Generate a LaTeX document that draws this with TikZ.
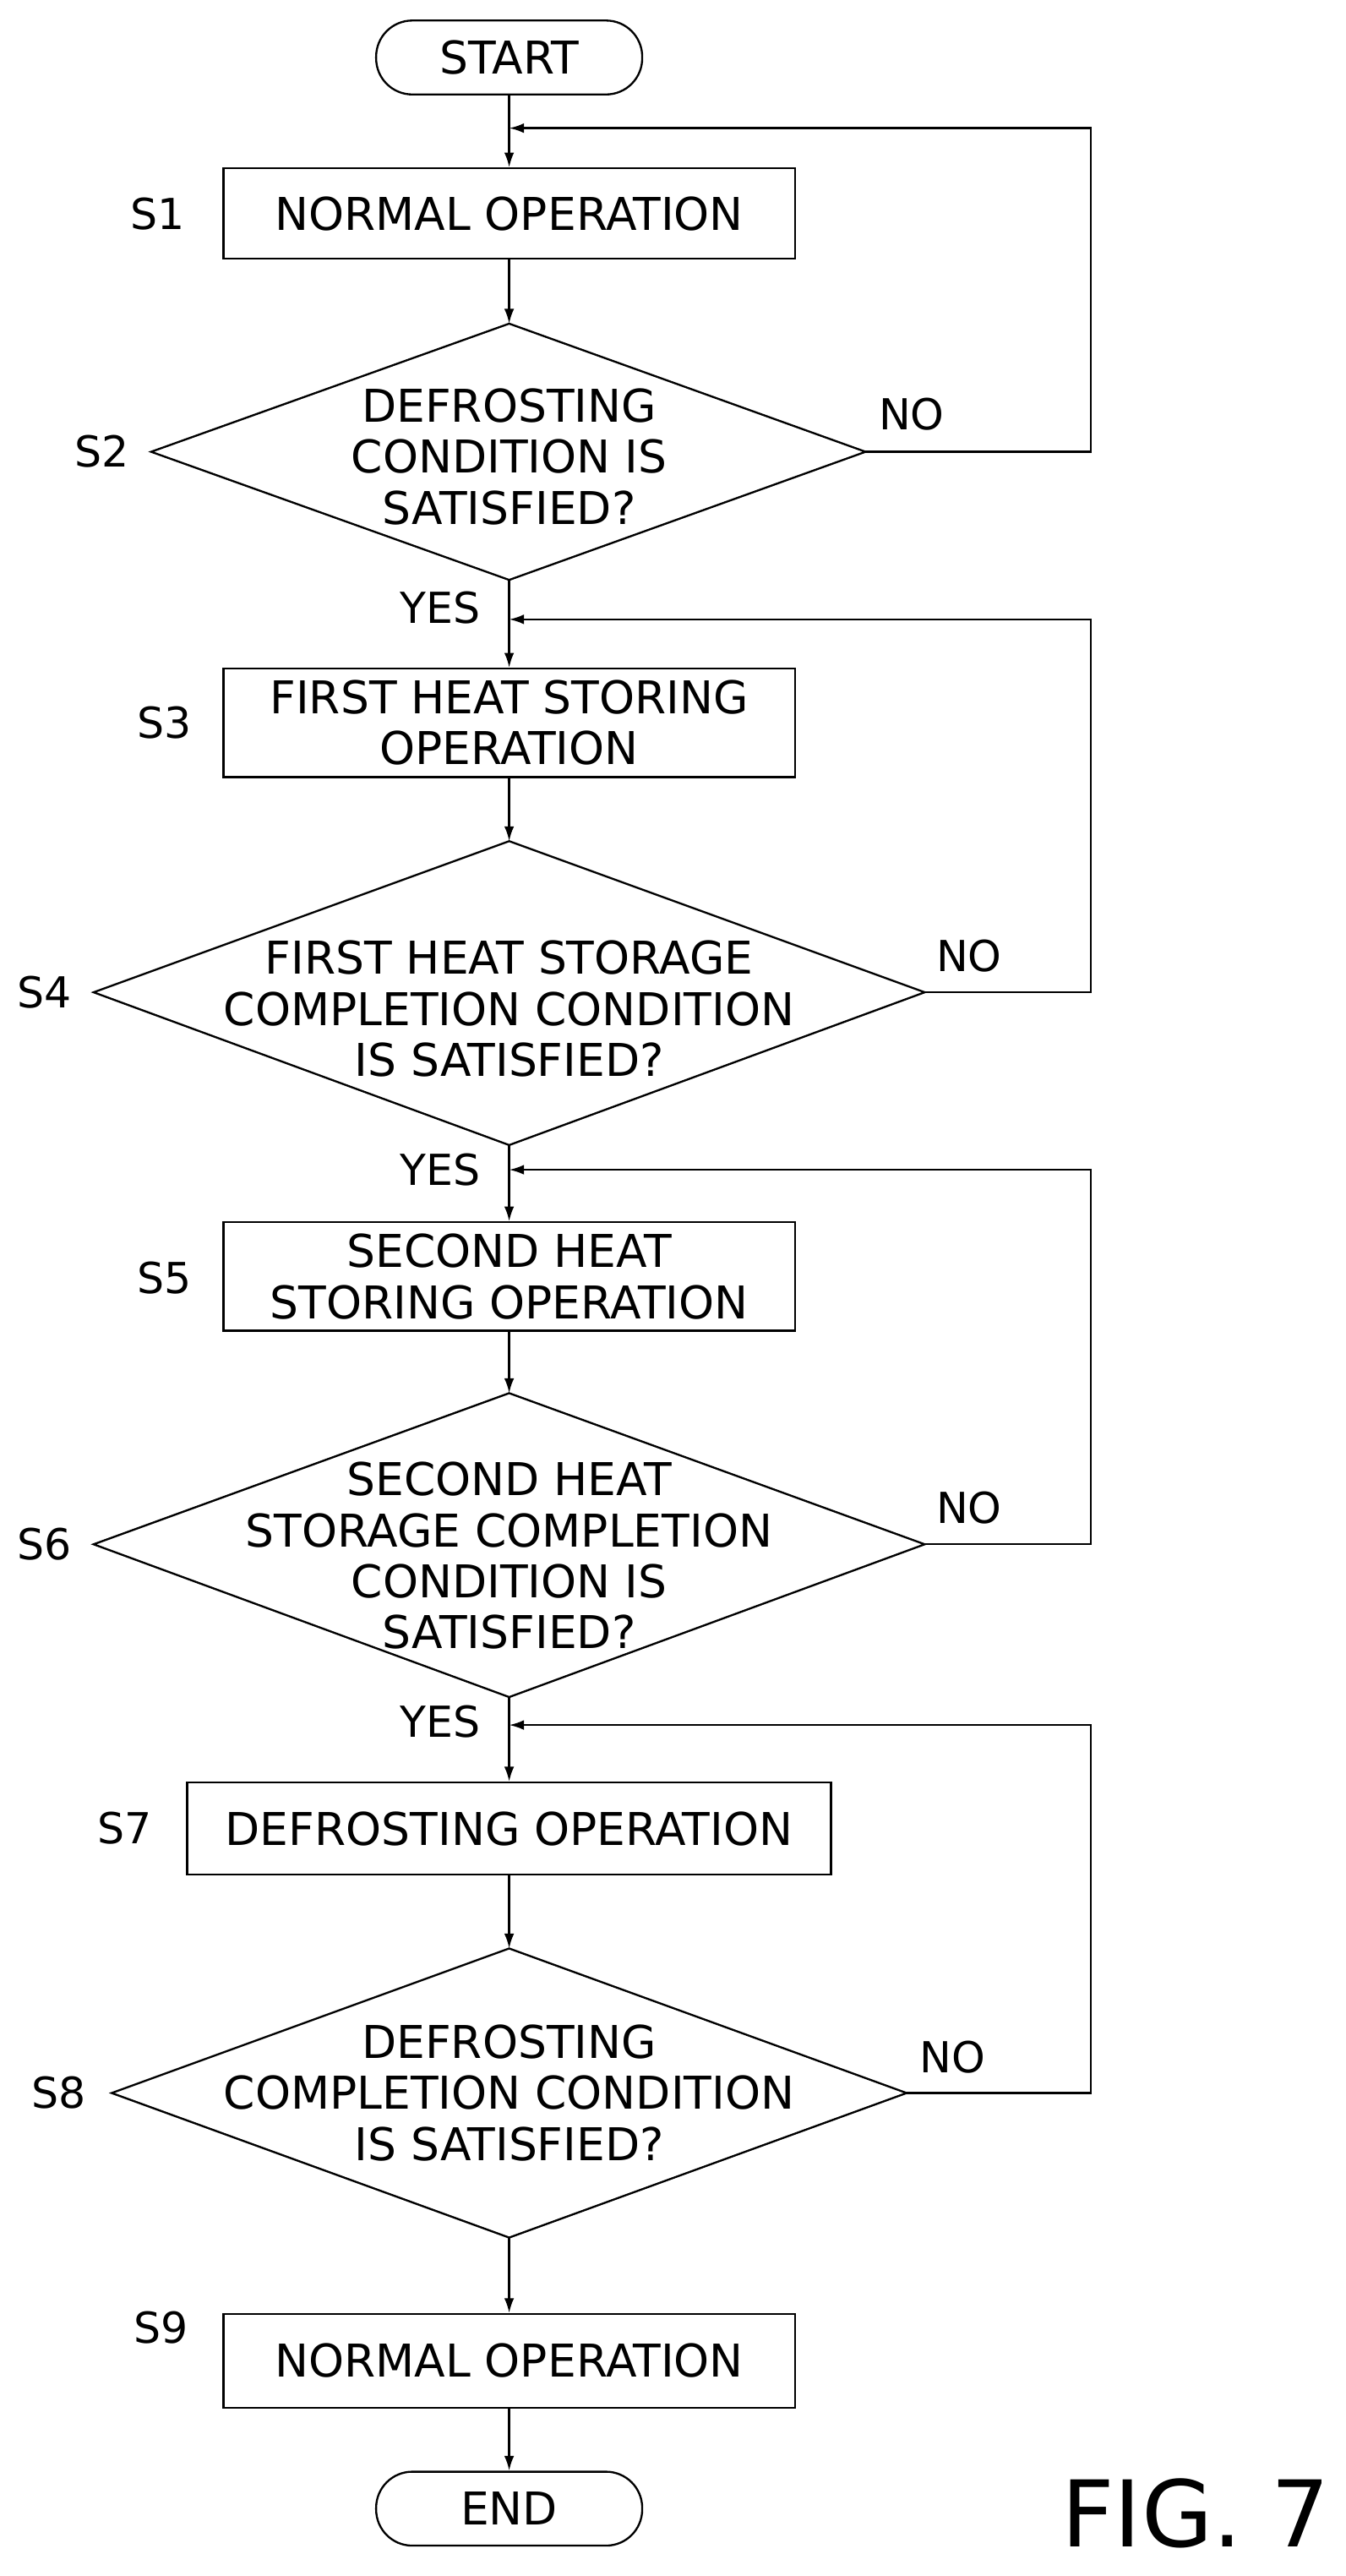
\documentclass[tikz,border=0pt]{standalone}
\usepackage{fontspec}
\setmainfont{DejaVu Sans}
\usetikzlibrary{arrows.meta}
\begin{document}
\begin{tikzpicture}[x=1pt,y=-1pt,
  line width=1.2pt,
  arr/.style={-{Latex[length=9pt,width=6pt]}},
  txt/.style={font=\fontsize{27.5}{31}\selectfont,align=center,inner sep=0pt},
  lab/.style={font=\fontsize{26}{28}\selectfont,inner sep=0pt},
  box/.style={draw,inner sep=0pt}]
\useasboundingbox (0,0) rectangle (819,1568);
% terminals
\node[box,rounded corners=22pt,minimum width=162pt,minimum height=45pt,txt] (start) at (310,35) {START};
\node[box,rounded corners=22pt,minimum width=162pt,minimum height=45pt,txt] (end) at (310,1527) {END};
% boxes
\node[box,minimum width=348pt,minimum height=55pt,txt] (s1) at (310,130) {NORMAL OPERATION};
\node[box,minimum width=348pt,minimum height=66pt,txt] (s3) at (310,440) {FIRST HEAT STORING\\OPERATION};
\node[box,minimum width=348pt,minimum height=66pt,txt] (s5) at (310,777) {SECOND HEAT\\STORING OPERATION};
\node[box,minimum width=392pt,minimum height=56pt,txt] (s7) at (310,1113) {DEFROSTING OPERATION};
\node[box,minimum width=348pt,minimum height=57pt,txt] (s9) at (310,1437) {NORMAL OPERATION};
% diamonds
\coordinate (d2t) at (310,197); \coordinate (d2b) at (310,353); \coordinate (d2l) at (92,275); \coordinate (d2r) at (527,275);
\coordinate (d4t) at (310,512); \coordinate (d4b) at (310,697); \coordinate (d4l) at (57,604); \coordinate (d4r) at (563,604);
\coordinate (d6t) at (310,848); \coordinate (d6b) at (310,1033); \coordinate (d6l) at (57,940); \coordinate (d6r) at (563,940);
\coordinate (d8t) at (310,1186); \coordinate (d8b) at (310,1362); \coordinate (d8l) at (68,1274); \coordinate (d8r) at (552,1274);
\draw (d2t)--(d2r)--(d2b)--(d2l)--cycle;
\draw (d4t)--(d4r)--(d4b)--(d4l)--cycle;
\draw (d6t)--(d6r)--(d6b)--(d6l)--cycle;
\draw (d8t)--(d8r)--(d8b)--(d8l)--cycle;
\node[txt] (t2) at (310,278) {DEFROSTING\\CONDITION IS\\SATISFIED?};
\node[txt] (t4) at (310,614) {FIRST HEAT STORAGE\\COMPLETION CONDITION\\IS SATISFIED?};
\node[txt] (t6) at (310,947) {SECOND HEAT\\STORAGE COMPLETION\\CONDITION IS\\SATISFIED?};
\node[txt] (t8) at (310,1274) {DEFROSTING\\COMPLETION CONDITION\\IS SATISFIED?};
% step labels
\node[lab] (l1) at (96,130) {S1};
\node[lab] (l2) at (62,275) {S2};
\node[lab] (l3) at (100,440) {S3};
\node[lab] (l4) at (27,604) {S4};
\node[lab] (l5) at (100,778) {S5};
\node[lab] (l6) at (27,940) {S6};
\node[lab] (l7) at (76,1113) {S7};
\node[lab] (l8) at (36,1274) {S8};
\node[lab] (l9) at (98,1417) {S9};
\node[lab] (n2) at (555,252) {NO};
\node[lab] (n4) at (590,582) {NO};
\node[lab] (n6) at (590,918) {NO};
\node[lab] (n8) at (580,1252) {NO};
\node[lab] (y2) at (268,370) {YES};
\node[lab] (y4) at (268,712) {YES};
\node[lab] (y6) at (268,1048) {YES};
\node[font=\fontsize{56}{60}\selectfont,inner sep=0pt] (fig) at (728,1530) {FIG. 7};
% join points
\coordinate (j1) at (310,78); \coordinate (j3) at (310,377); \coordinate (j5) at (310,712); \coordinate (j7) at (310,1050);
% connectors
\draw[arr] (start) -- (s1);
\draw[arr] (s1) -- (d2t);
\draw[arr] (d2b) -- (s3);
\draw[arr] (s3) -- (d4t);
\draw[arr] (d4b) -- (s5);
\draw[arr] (s5) -- (d6t);
\draw[arr] (d6b) -- (s7);
\draw[arr] (s7) -- (d8t);
\draw[arr] (d8b) -- (s9);
\draw[arr] (s9) -- (end);
\draw[arr] (d2r) -- (664,275) -- (664,78) -- (j1);
\draw[arr] (d4r) -- (664,604) -- (664,377) -- (j3);
\draw[arr] (d6r) -- (664,940) -- (664,712) -- (j5);
\draw[arr] (d8r) -- (664,1274) -- (664,1050) -- (j7);
\end{tikzpicture}
\end{document}
